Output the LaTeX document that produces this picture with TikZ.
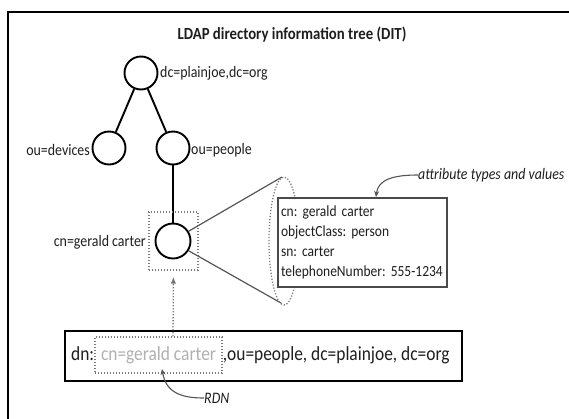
\documentclass[tikz,border=0pt]{standalone}
\usepackage{fontspec}
\setmainfont{Carlito}[FakeStretch=0.87]
\usetikzlibrary{arrows.meta,shapes.geometric}
\definecolor{ink}{HTML}{1E1E1E}
\definecolor{dotgray}{HTML}{7A7A7A}
\definecolor{conegray}{HTML}{555555}
\definecolor{boxgray}{HTML}{4A4A4A}
\definecolor{paletext}{HTML}{B0B0B0}
\frenchspacing
\begin{document}
\begin{tikzpicture}[x=1pt,y=-1pt,
  lbl/.style={font=\fontsize{16}{20}\selectfont, text=ink, inner sep=0pt},
  ilbl/.style={lbl, font=\fontsize{16}{20}\selectfont\itshape},
  dntext/.style={font=\fontsize{20}{24}\selectfont, text=ink, inner sep=0pt},
  circ/.style={circle, draw=black, line width=1.9pt, minimum size=33pt, inner sep=0pt},
  treeedge/.style={line width=1.9pt, black},
  dotframe/.style={draw=dotgray, line width=1.3pt, dash pattern=on 1.2pt off 1.8pt},
  cone/.style={draw=conegray, line width=1.2pt},
  leader/.style={draw=conegray, line width=1.1pt, -{Stealth[length=6pt,width=5pt,fill=black]}},
  attrbox/.style={draw=boxgray, line width=1.5pt, fill=white, text width=163pt,
    align=left, inner xsep=3pt, inner ysep=0pt, minimum height=89pt,
    font=\fontsize{15.5}{20}\selectfont, text=ink}
]
\useasboundingbox (0,0) rectangle (569,418);

% outer frame (left and top rules)
\draw[line width=2.6pt, black] (8,420) -- (8,12) -- (571,12);

% title
\node[font=\bfseries\fontsize{17}{20}\selectfont, text=ink, inner sep=0pt] (title) at (292,35)
  {LDAP directory information tree (DIT)};

% tree
\node[circ] (root) at (141,73) {};
\node[circ] (dev) at (109,148) {};
\node[circ] (peo) at (173,148) {};
\node[circ, minimum size=35pt] (car) at (173,241) {};
\draw[treeedge] (root) -- (dev);
\draw[treeedge] (root) -- (peo);
\draw[treeedge] (peo) -- (car);

\node[lbl, anchor=west] (tdc) at (160,73) {dc=plainjoe,dc=org};
\node[lbl, anchor=east] (tdev) at (90,150) {ou=devices};
\node[lbl, anchor=west] (tpeo) at (191,150) {ou=people};
\node[lbl, anchor=east] (tcar) at (146,242) {cn=gerald carter};

% selection around the entry
\node[dotframe, minimum width=49pt, minimum height=58pt, inner sep=0pt] (rdnsel) at (173.5,241) {};

% magnifying cone to the attribute list
\coordinate (ctop) at (282,177);
\coordinate (cbot) at (281,303);
\draw[cone] (car.32) -- (ctop);
\draw[cone] (car.-32) -- (cbot);
\node[ellipse, dotframe, minimum width=30pt, minimum height=128pt, inner sep=0pt] (lens) at (284,241) {};

\node[attrbox] (attr) at (362.5,242.5)
  {cn: gerald carter\\objectClass: person\\sn: carter\\telephoneNumber: 555-1234};

\node[ilbl, anchor=west] (tattr) at (418,175) {attribute types and values};
\coordinate (attrtip) at (376,197);
\draw[leader] (tattr.west) .. controls (392,175) and (378,180) .. (attrtip);

% distinguished name
\node[draw=black, line width=2.6pt, minimum width=397pt, minimum height=50pt, inner sep=0pt] (dnbox) at (263.5,356) {};
\node[dotframe, dntext, text=paletext, minimum width=127pt, minimum height=36pt] (rdn) at (158.5,355) {cn=gerald carter};
\node[dntext, anchor=base east] (dnl) at (rdn.base west) {dn:};
\node[dntext, anchor=base west] (dnr) at (rdn.base east) {,ou=people, dc=plainjoe, dc=org};

\draw[draw=dotgray, line width=1.3pt, dash pattern=on 1.2pt off 1.8pt,
  -{Latex[length=7pt,width=5.5pt,fill=black]}, shorten >=6pt]
  (rdn.north -| car) -- (rdnsel.south);

\node[ilbl, anchor=west] (trdn) at (204,398) {RDN};
\coordinate (rdntip) at (162,369);
\draw[leader] (trdn.west) .. controls (180,398) and (166,392) .. (rdntip);
\end{tikzpicture}
\end{document}
